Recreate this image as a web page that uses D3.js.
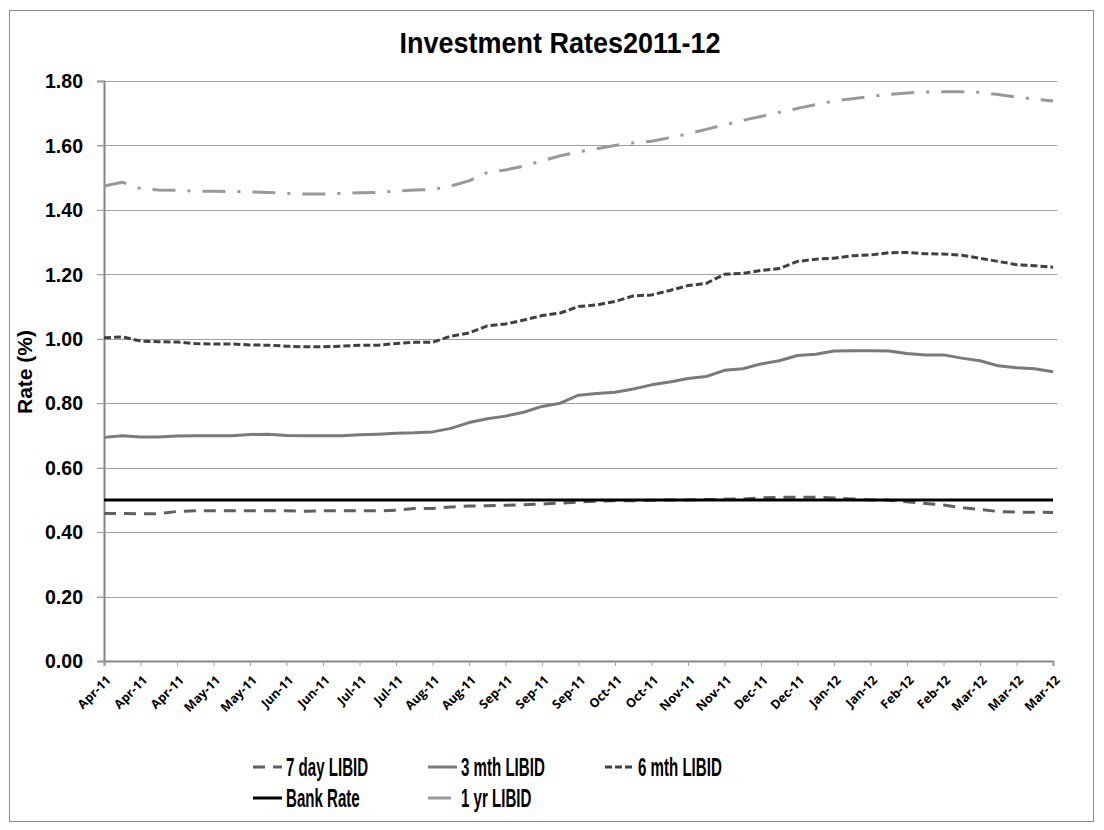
<!DOCTYPE html>
<html>
<head>
<meta charset="utf-8">
<script src="https://cdn.jsdelivr.net/npm/d3@7"></script>
<style>
  body { margin: 0; background: #fff; }
</style>
</head>
<body>
<script>
var width = 1104;
var height = 830;

// tick labels along the bottom, one every half month
var tickLabels = ['Apr-11', 'Apr-11', 'Apr-11', 'May-11', 'May-11', 'Jun-11', 'Jun-11',
  'Jul-11', 'Jul-11', 'Aug-11', 'Aug-11', 'Sep-11', 'Sep-11', 'Sep-11', 'Oct-11',
  'Oct-11', 'Nov-11', 'Nov-11', 'Dec-11', 'Dec-11', 'Jan-12', 'Jan-12', 'Feb-12',
  'Feb-12', 'Mar-12', 'Mar-12', 'Mar-12'];

var yTicks = [0, 0.2, 0.4, 0.6, 0.8, 1.0, 1.2, 1.4, 1.6, 1.8];

// rates sampled twice per tick interval (53 points)
var sevenDay = [0.458, 0.458, 0.457, 0.457, 0.464, 0.466, 0.466, 0.466, 0.466, 0.466,
  0.466, 0.465, 0.466, 0.466, 0.466, 0.466, 0.468, 0.473, 0.473, 0.478,
  0.481, 0.482, 0.483, 0.485, 0.487, 0.490, 0.493, 0.496, 0.497, 0.497,
  0.499, 0.500, 0.500, 0.501, 0.502, 0.503, 0.506, 0.508, 0.508, 0.508,
  0.506, 0.503, 0.500, 0.499, 0.494, 0.489, 0.484, 0.476, 0.470, 0.464,
  0.462, 0.462, 0.461];

var threeMonth = [0.694, 0.699, 0.695, 0.695, 0.698, 0.699, 0.699, 0.699, 0.703, 0.704,
  0.700, 0.699, 0.699, 0.699, 0.702, 0.704, 0.707, 0.708, 0.711, 0.722,
  0.740, 0.752, 0.760, 0.772, 0.790, 0.800, 0.825, 0.830, 0.834, 0.844,
  0.857, 0.866, 0.877, 0.883, 0.902, 0.907, 0.922, 0.932, 0.948, 0.952,
  0.962, 0.963, 0.963, 0.962, 0.954, 0.950, 0.950, 0.940, 0.932, 0.916,
  0.910, 0.907, 0.898];

var sixMonth = [1.003, 1.006, 0.993, 0.991, 0.990, 0.985, 0.984, 0.984, 0.981, 0.980,
  0.977, 0.975, 0.975, 0.977, 0.980, 0.980, 0.985, 0.989, 0.989, 1.008,
  1.018, 1.040, 1.046, 1.058, 1.072, 1.080, 1.100, 1.105, 1.116, 1.133,
  1.136, 1.150, 1.165, 1.172, 1.200, 1.203, 1.212, 1.218, 1.240, 1.247,
  1.250, 1.258, 1.260, 1.267, 1.268, 1.264, 1.263, 1.259, 1.250, 1.240,
  1.230, 1.227, 1.222];

var bankRate = [0.50, 0.50, 0.50, 0.50, 0.50, 0.50, 0.50, 0.50, 0.50, 0.50,
  0.50, 0.50, 0.50, 0.50, 0.50, 0.50, 0.50, 0.50, 0.50, 0.50,
  0.50, 0.50, 0.50, 0.50, 0.50, 0.50, 0.50, 0.50, 0.50, 0.50,
  0.50, 0.50, 0.50, 0.50, 0.50, 0.50, 0.50, 0.50, 0.50, 0.50,
  0.50, 0.50, 0.50, 0.50, 0.50, 0.50, 0.50, 0.50, 0.50, 0.50,
  0.50, 0.50, 0.50];

var oneYear = [1.474, 1.486, 1.466, 1.462, 1.461, 1.458, 1.458, 1.457, 1.456, 1.454,
  1.451, 1.449, 1.449, 1.451, 1.453, 1.454, 1.458, 1.462, 1.463, 1.474,
  1.490, 1.516, 1.524, 1.536, 1.552, 1.568, 1.580, 1.590, 1.600, 1.608,
  1.613, 1.624, 1.636, 1.650, 1.664, 1.678, 1.690, 1.703, 1.715, 1.727,
  1.738, 1.745, 1.752, 1.758, 1.763, 1.766, 1.767, 1.767, 1.765, 1.758,
  1.750, 1.744, 1.738];

var seriesNames = ['7 day LIBID', '3 mth LIBID', '6 mth LIBID', 'Bank Rate', '1 yr LIBID'];
var seriesValues = [sevenDay, threeMonth, sixMonth, bankRate, oneYear];

var styles = {
  '7 day LIBID': { color: '#606060', width: 3, dash: '12,8' },
  '3 mth LIBID': { color: '#7a7a7a', width: 3, dash: null },
  '6 mth LIBID': { color: '#404040', width: 3, dash: '7,3' },
  'Bank Rate':   { color: '#000000', width: 3, dash: null },
  '1 yr LIBID':  { color: '#999999', width: 3, dash: '23,12,3,12' }
};

var plot = { left: 104, right: 1053, top: 81, bottom: 661 };

// squash text horizontally, like the stretched original
var squeeze = function(sel, f) {
  sel.each(function() {
    var w = this.getComputedTextLength();
    d3.select(this)
      .attr('textLength', w * f)
      .attr('lengthAdjust', 'spacingAndGlyphs');
  });
};

var svg = d3.select('body').append('svg')
            .attr('width', width)
            .attr('height', height)
            .style('font-family', '"Liberation Sans", Arial, sans-serif');

svg.append('rect')
   .attr('x', 9.5)
   .attr('y', 10.5)
   .attr('width', 1084)
   .attr('height', 811)
   .attr('fill', '#fff')
   .attr('stroke', '#8c8c8c')
   .attr('stroke-width', 1);

var x = d3.scaleLinear()
          .domain([0, tickLabels.length - 1])
          .range([plot.left, plot.right]);
var y = d3.scaleLinear()
          .domain([0, 1.8])
          .range([plot.bottom, plot.top]);

// gridlines
svg.append('g')
   .selectAll('line')
   .data(yTicks.filter(d => d > 0))
   .enter().append('line')
   .attr('x1', plot.left - 7)
   .attr('x2', plot.right + 4)
   .attr('y1', d => Math.round(y(d)) + 0.5)
   .attr('y2', d => Math.round(y(d)) + 0.5)
   .attr('stroke', '#a0a0a0')
   .attr('stroke-width', 1);

// y axis
var yAxis = d3.axisLeft(y)
              .tickValues(yTicks)
              .tickSize(7)
              .tickPadding(14)
              .tickFormat(d3.format('.2f'));
var yAxisG = svg.append('g')
                .attr('transform', 'translate(' + plot.left + ',0)')
                .call(yAxis);
yAxisG.select('.domain').attr('stroke', '#868686').attr('stroke-width', 2);
yAxisG.selectAll('.tick line').attr('stroke', '#a0a0a0');
yAxisG.selectAll('.tick text')
      .attr('font-family', '"Liberation Sans", Arial, sans-serif')
      .attr('font-weight', 'bold')
      .attr('font-size', 21)
      .attr('fill', '#000')
      .call(squeeze, 0.93);

// x axis
var xAxis = d3.axisBottom(x)
              .tickValues(d3.range(tickLabels.length))
              .tickSize(5)
              .tickFormat(i => tickLabels[i]);
var xAxisG = svg.append('g')
                .attr('transform', 'translate(0,' + plot.bottom + ')')
                .call(xAxis);
xAxisG.select('.domain').attr('stroke', '#868686').attr('stroke-width', 2);
xAxisG.selectAll('.tick line').attr('stroke', '#a0a0a0');
xAxisG.selectAll('.tick text')
      .attr('font-family', '"Open Sans", sans-serif')
      .attr('font-weight', 'bold')
      .attr('font-size', 12.5)
      .attr('fill', '#000')
      .attr('text-anchor', 'end')
      .attr('y', 0)
      .attr('dy', 0)
      .attr('transform', 'translate(7,20) rotate(-45)');

// series lines
var line = d3.line()
             .x((d, i) => x(i / 2))
             .y(d => y(d));

seriesNames.forEach((name, k) => {
  var st = styles[name];
  svg.append('path')
     .datum(seriesValues[k])
     .attr('fill', 'none')
     .attr('stroke', st.color)
     .attr('stroke-width', st.width)
     .attr('stroke-dasharray', st.dash)
     .attr('stroke-linejoin', 'round')
     .attr('d', line);
});

// title
svg.append('text')
   .attr('x', 560)
   .attr('y', 53)
   .attr('text-anchor', 'middle')
   .attr('font-weight', 'bold')
   .attr('font-size', 30)
   .text('Investment Rates2011-12')
   .call(squeeze, 0.9);

// y axis title
svg.append('text')
   .attr('transform', 'translate(32,372) rotate(-90)')
   .attr('text-anchor', 'middle')
   .attr('font-weight', 'bold')
   .attr('font-size', 21)
   .text('Rate (%)');

// legend
var legendPos = [
  { x: 253, y: 767 }, { x: 428, y: 767 }, { x: 605, y: 767 },
  { x: 253, y: 798 }, { x: 428, y: 798 }
];

var legendG = svg.append('g');
seriesNames.forEach((name, k) => {
  var st = styles[name];
  var p = legendPos[k];
  legendG.append('line')
         .attr('x1', p.x)
         .attr('x2', p.x + 29)
         .attr('y1', p.y)
         .attr('y2', p.y)
         .attr('stroke', st.color)
         .attr('stroke-width', st.width)
         .attr('stroke-dasharray', st.dash);
  legendG.append('text')
         .attr('x', p.x + 33)
         .attr('y', p.y + 9)
         .attr('font-weight', 'bold')
         .attr('font-size', 26)
         .text(name)
         .call(squeeze, 0.58);
});
</script>
</body>
</html>
